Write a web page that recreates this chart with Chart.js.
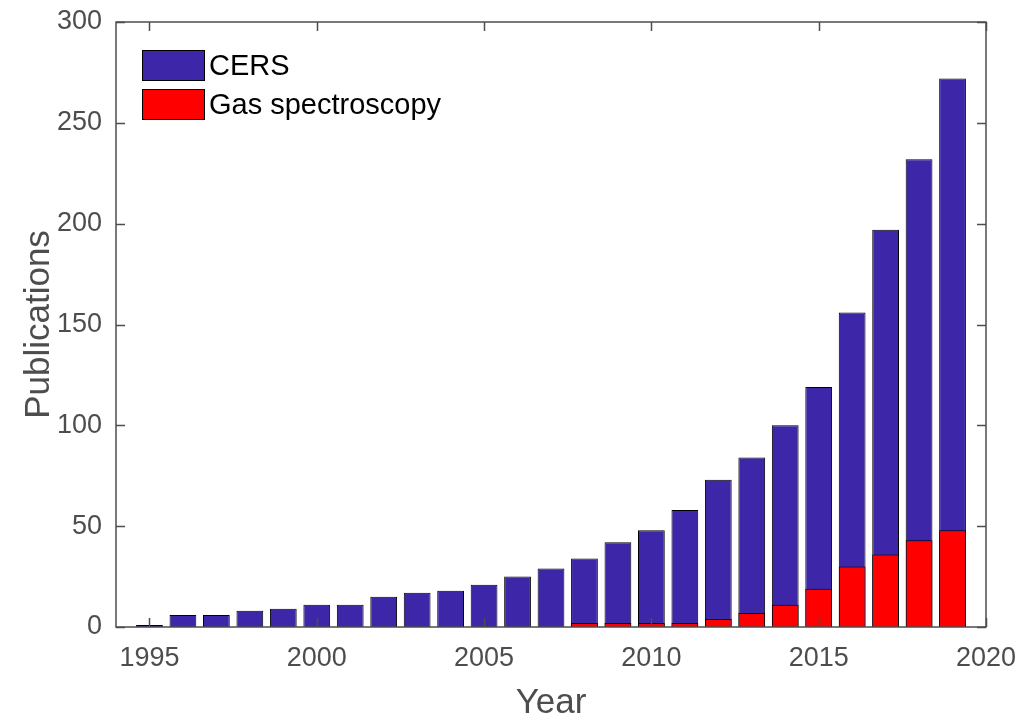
<!DOCTYPE html>
<html>
<head>
<meta charset="utf-8">
<title>CERS publications per year</title>
<script src="https://cdn.jsdelivr.net/npm/chart.js@4.4.1/dist/chart.umd.min.js"></script>
<style>
  html, body { margin: 0; padding: 0; background: #ffffff; }
  #wrap { width: 1019px; height: 718px; }
</style>
</head>
<body>
<div id="wrap"><canvas id="chart" width="1019" height="718"></canvas></div>
<script>
// Publications per year
const years = [1995, 1996, 1997, 1998, 1999, 2000, 2001, 2002, 2003, 2004, 2005, 2006,
               2007, 2008, 2009, 2010, 2011, 2012, 2013, 2014, 2015, 2016, 2017, 2018, 2019];
const cersCounts = [1, 6, 6, 8, 9, 11, 11, 15, 17, 18, 21, 25,
                    29, 34, 42, 48, 58, 73, 84, 100, 119, 156, 197, 232, 272];
const gasCounts = [0, 0, 0, 0, 0, 0, 0, 0, 0, 0, 0, 0,
                   0, 2, 2, 2, 2, 4, 7, 11, 19, 30, 36, 43, 48];
const xTickValues = [1995, 2000, 2005, 2010, 2015, 2020];
const yTickValues = [0, 50, 100, 150, 200, 250, 300];
const seriesNames = ['CERS', 'Gas spectroscopy'];

const AXIS_COLOR = '#4d4d4d';
const TICK_FONT = { family: '"Liberation Sans", Arial, sans-serif', size: 27 };
const TITLE_FONT = { family: '"Liberation Sans", Arial, sans-serif', size: 35, lineHeight: 1 };

const toPoints = (vals) => years.map((y, i) => ({ x: y, y: vals[i] }));

// Box around the plot with inward tick marks on all four sides, drawn over the bars
const boxAndTicks = {
  id: 'boxAndTicks',
  afterDatasetsDraw(chart) {
    const { ctx, chartArea: a, scales: { x, y } } = chart;
    const len = 9;
    ctx.save();
    ctx.strokeStyle = AXIS_COLOR;
    ctx.lineWidth = 1.5;
    ctx.beginPath();
    x.ticks.forEach(t => {
      const px = Math.round(x.getPixelForValue(t.value)) + 0.5;
      ctx.moveTo(px, a.bottom); ctx.lineTo(px, a.bottom - len);
      ctx.moveTo(px, a.top); ctx.lineTo(px, a.top + len);
    });
    y.ticks.forEach(t => {
      const py = Math.round(y.getPixelForValue(t.value)) + 0.5;
      ctx.moveTo(a.left, py); ctx.lineTo(a.left + len, py);
      ctx.moveTo(a.right, py); ctx.lineTo(a.right - len, py);
    });
    ctx.stroke();
    ctx.strokeRect(a.left, a.top, a.right - a.left, a.bottom - a.top);
    ctx.restore();
  }
};

// Legend inside the upper-left corner of the plot
const innerLegend = {
  id: 'innerLegend',
  afterDraw(chart) {
    const { ctx, chartArea: a } = chart;
    const sw = 62, sh = 30, gap = 9;
    const x0 = a.left + 26, y0 = a.top + 28;
    ctx.save();
    ctx.font = '29px "Liberation Sans", Arial, sans-serif';
    ctx.textBaseline = 'middle';
    ctx.textAlign = 'left';
    chart.data.datasets.forEach((ds, i) => {
      const yy = y0 + i * (sh + gap);
      ctx.fillStyle = ds.backgroundColor;
      ctx.fillRect(x0, yy, sw, sh);
      ctx.strokeStyle = '#000000';
      ctx.lineWidth = 1;
      ctx.strokeRect(x0 + 0.5, yy + 0.5, sw, sh);
      ctx.fillStyle = '#000000';
      ctx.fillText(ds.label, x0 + sw + 5, yy + sh / 2 + 2);
    });
    ctx.restore();
  }
};

new Chart(document.getElementById('chart'), {
  type: 'bar',
  data: {
    datasets: [
      {
        label: seriesNames[0],
        data: toPoints(cersCounts),
        backgroundColor: 'rgb(62, 38, 168)',
        borderColor: '#000000',
        borderWidth: 1,
        grouped: false,
        order: 2
      },
      {
        label: seriesNames[1],
        data: toPoints(gasCounts),
        backgroundColor: 'rgb(255, 0, 0)',
        borderColor: '#000000',
        borderWidth: 1,
        grouped: false,
        order: 1
      }
    ]
  },
  options: {
    responsive: false,
    animation: false,
    devicePixelRatio: 1,
    layout: { padding: { left: 0, top: 22, right: 33, bottom: 0 } },
    datasets: { bar: { barPercentage: 0.8, categoryPercentage: 1.0 } },
    plugins: { legend: { display: false }, tooltip: { enabled: false } },
    scales: {
      x: {
        type: 'linear',
        offset: false,
        min: 1994,
        max: 2020,
        afterBuildTicks: (s) => { s.ticks = xTickValues.map(v => ({ value: v })); },
        afterFit: (s) => { s.height = 91; s.paddingLeft = 0; s.paddingRight = 0; },
        grid: { display: false, drawTicks: false, tickLength: 0 },
        border: { display: false },
        ticks: { color: AXIS_COLOR, font: TICK_FONT, padding: 15, maxRotation: 0, autoSkip: false,
                 callback: (v) => String(v) },
        title: { display: true, text: 'Year', color: AXIS_COLOR, font: TITLE_FONT, padding: -3 }
      },
      y: {
        type: 'linear',
        min: 0,
        max: 300,
        afterBuildTicks: (s) => { s.ticks = yTickValues.map(v => ({ value: v })); },
        afterFit: (s) => { s.width = 116; s.paddingTop = 0; s.paddingBottom = 0; },
        grid: { display: false, drawTicks: false, tickLength: 0 },
        border: { display: false },
        ticks: { color: AXIS_COLOR, font: TICK_FONT, padding: 14, autoSkip: false,
                 callback: (v) => String(v) },
        title: { display: true, text: 'Publications', color: AXIS_COLOR, font: TITLE_FONT, padding: 22 }
      }
    }
  },
  plugins: [boxAndTicks, innerLegend]
});
</script>
</body>
</html>
